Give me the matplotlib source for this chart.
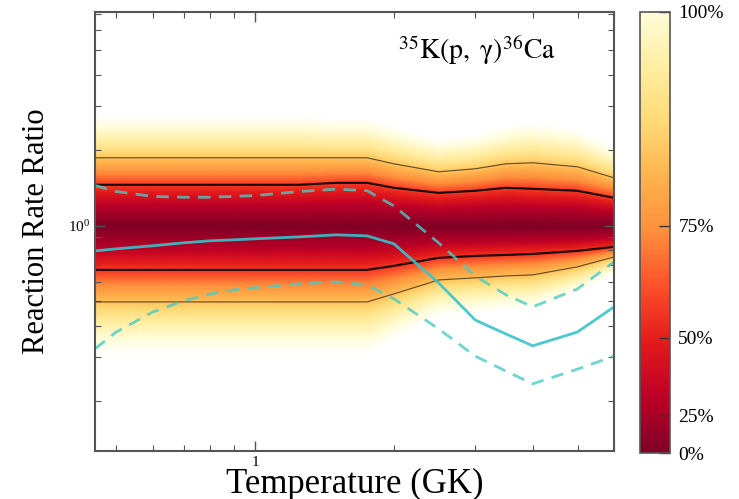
import numpy as np
import matplotlib
matplotlib.use("Agg")
import matplotlib.pyplot as plt
from matplotlib.colors import LinearSegmentedColormap, Normalize
from matplotlib.cm import ScalarMappable
from matplotlib.ticker import FixedLocator, NullFormatter, LogLocator, FixedFormatter

plt.rcParams['font.family'] = ['Liberation Serif', 'DejaVu Serif']
plt.rcParams['mathtext.fontset'] = 'stix'

# ---------------- data ----------------
temperature = [0.45, 0.5, 0.6, 0.7, 0.8, 0.9, 1.0, 1.25, 1.5, 1.75, 2.0, 2.5, 3.0, 3.5, 4.0, 5.0, 6.0]
median = [1.0] * 17
upper_68 = [1.457, 1.457, 1.457, 1.457, 1.457, 1.457, 1.457, 1.457, 1.483, 1.483, 1.417, 1.353, 1.379, 1.417, 1.404, 1.379, 1.293]
lower_68 = [0.668, 0.668, 0.668, 0.668, 0.668, 0.668, 0.668, 0.668, 0.668, 0.668, 0.693, 0.746, 0.759, 0.766, 0.773, 0.795, 0.825]
upper_95 = [1.866, 1.866, 1.866, 1.866, 1.866, 1.866, 1.866, 1.866, 1.866, 1.866, 1.766, 1.641, 1.687, 1.766, 1.782, 1.718, 1.553]
lower_95 = [0.498, 0.498, 0.498, 0.498, 0.498, 0.498, 0.498, 0.498, 0.498, 0.498, 0.536, 0.609, 0.621, 0.632, 0.638, 0.687, 0.752]
cyan_median = [0.795, 0.810, 0.833, 0.856, 0.872, 0.880, 0.888, 0.904, 0.921, 0.912, 0.848, 0.593, 0.422, 0.371, 0.333, 0.378, 0.476]
cyan_high = [1.45, 1.37, 1.31, 1.30, 1.30, 1.31, 1.32, 1.37, 1.40, 1.38, 1.20, 0.856, 0.632, 0.531, 0.476, 0.561, 0.719]
cyan_low = [0.324, 0.378, 0.454, 0.503, 0.536, 0.556, 0.567, 0.588, 0.598, 0.582, 0.512, 0.389, 0.303, 0.264, 0.235, 0.269, 0.303]

cbar_tick_pos = [0.0, 0.086, 0.261, 0.515, 1.0]
cbar_tick_labels = ['0%', '25%', '50%', '75%', '100%']
title_text = r'$^{35}\mathrm{K}\left(\mathrm{p},\ \mathrm{\gamma}\right)^{36}\mathrm{Ca}$'

# ---------------- colours ----------------
base_stops = [(0.0, '#800026'), (0.125, '#bd0026'), (0.25, '#e31a1c'), (0.375, '#fc4e2a'),
              (0.5, '#fd8d3c'), (0.625, '#feb24c'), (0.75, '#fed976'), (0.875, '#ffeda0'),
              (1.0, '#fffcd8')]
cmap_bar = LinearSegmentedColormap.from_list('bar', base_stops)
VMAX = 1.12
cmap_img = LinearSegmentedColormap.from_list(
    'img', [(p / VMAX, c) for p, c in base_stops] + [(1.0, '#ffffff')])

# ---------------- density field from the percentile lines ----------------
xlim = (0.45, 6.0)
ylim = (0.127, 7.1)
lt = np.log10(temperature)
Tf = np.logspace(np.log10(xlim[0]), np.log10(xlim[1]), 600)
Yf = np.logspace(np.log10(ylim[0]), np.log10(ylim[1]), 700)
ltf = np.log10(Tf)

def li(arr):
    return np.interp(ltf, lt, np.log10(arr))

m = li(median)
u1, u2 = li(upper_68) - m, li(upper_95) - m
l1, l2 = m - li(lower_68), m - li(lower_95)
LY = np.log10(Yf)[:, None]
dist = LY - m[None, :]
g1 = np.where(dist >= 0, u1[None, :], l1[None, :])
g2 = np.where(dist >= 0, u2[None, :], l2[None, :])
ad = np.abs(dist)
d = np.where(ad <= g1, ad / g1, 1 + (ad - g1) / (g2 - g1))
d_nodes = [0, 0.5, 1, 1.5, 2, 2.5, 3, 3.6]
c_nodes = [0, 0.12, 0.33, 0.52, 0.68, 0.85, 0.97, 1.12]
C = np.interp(d, d_nodes, c_nodes)

# ---------------- figure ----------------
fig = plt.figure(figsize=(7.39, 4.99), dpi=100)
ax = fig.add_axes([0.1286, 0.0962, 0.7023, 0.8798])
ax.pcolormesh(Tf, Yf, C, cmap=cmap_img, vmin=0, vmax=VMAX, shading='gouraud', rasterized=True)

ax.plot(temperature, upper_95, color='#3a2a10', lw=0.8, alpha=0.8)
ax.plot(temperature, lower_95, color='#3a2a10', lw=0.8, alpha=0.8)
ax.plot(temperature, upper_68, color='#1a0000', lw=1.5)
ax.plot(temperature, lower_68, color='#1a0000', lw=1.5)
ax.plot(temperature, cyan_median, color='#36c4cc', lw=2.0, alpha=0.9)
ax.plot(temperature, cyan_high, color='#48ccc4', lw=2.0, alpha=0.8, dashes=(4.5, 3))
ax.plot(temperature, cyan_low, color='#48ccc4', lw=2.0, alpha=0.8, dashes=(4.5, 3))

ax.set_xscale('log')
ax.set_yscale('log')
ax.set_xlim(*xlim)
ax.set_ylim(*ylim)
ax.xaxis.set_major_locator(FixedLocator([1.0]))
ax.xaxis.set_major_formatter(FixedFormatter(['1']))
ax.xaxis.set_minor_locator(LogLocator(base=10, subs=np.arange(2, 10), numticks=20))
ax.xaxis.set_minor_formatter(NullFormatter())
ax.yaxis.set_minor_locator(LogLocator(base=10, subs=np.arange(2, 10), numticks=20))
ax.yaxis.set_minor_formatter(NullFormatter())
ax.tick_params(which='both', direction='in', top=True, right=True, color='#555555')
ax.tick_params(which='major', length=7, width=1, labelsize=11)
ax.tick_params(which='minor', length=4, width=0.8)
for s in ax.spines.values():
    s.set_color('#555555')
    s.set_linewidth(1.5)

ax.set_xlabel('Temperature (GK)', fontsize=25, labelpad=-1)
ax.set_ylabel('Reaction Rate Ratio', fontsize=22, labelpad=12)
ax.text(0.735, 0.912, title_text, transform=ax.transAxes, ha='center', va='center', fontsize=20)

cax = fig.add_axes([0.866, 0.092, 0.0406, 0.884])
cb = fig.colorbar(ScalarMappable(norm=Normalize(0, 1), cmap=cmap_bar), cax=cax)
cb.set_ticks(cbar_tick_pos)
cb.set_ticklabels(cbar_tick_labels)
cb.ax.tick_params(direction='in', length=8, width=1, color='#333333', labelsize=14, pad=6)
cb.outline.set_edgecolor('#555555')
cb.outline.set_linewidth(1.2)

fig.savefig('out.png', dpi=100)
